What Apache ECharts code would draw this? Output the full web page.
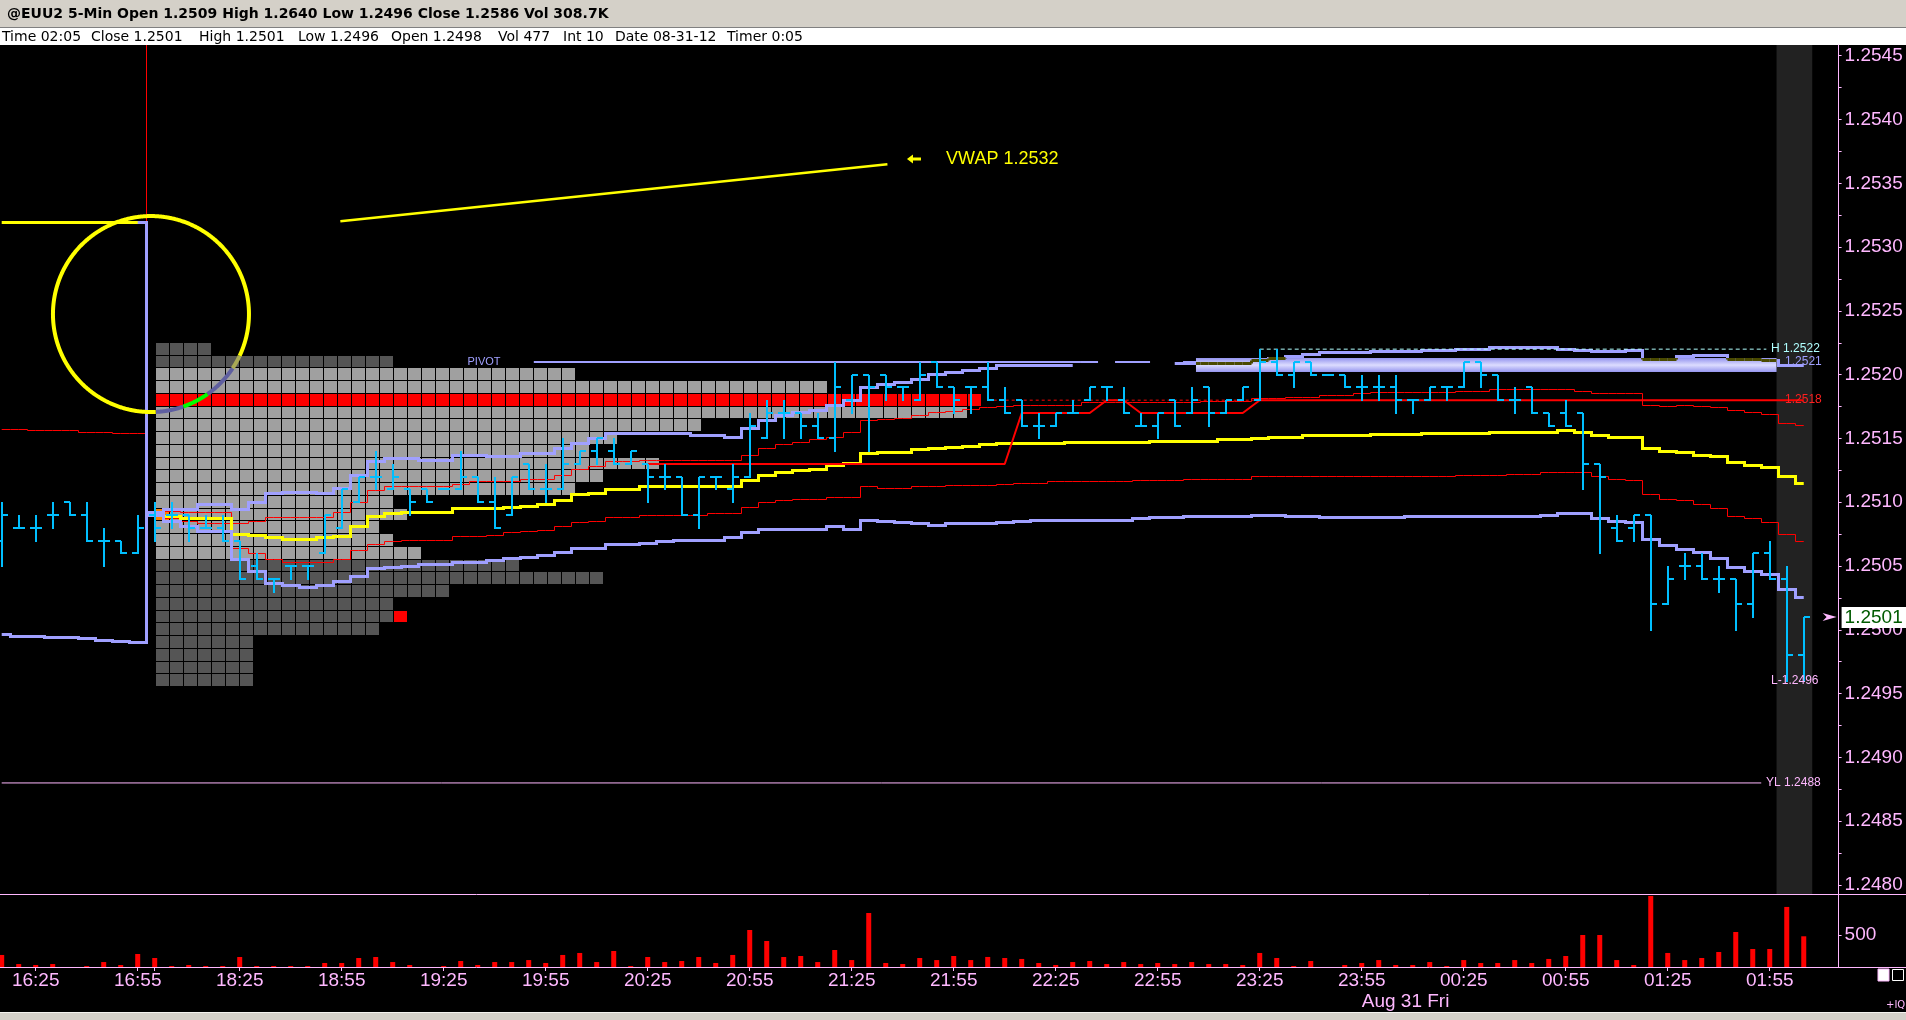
<!DOCTYPE html>
<html>
<head>
<meta charset="utf-8">
<title>@EUU2 5-Min</title>
<script src="https://cdn.jsdelivr.net/npm/echarts@6/dist/echarts.min.js"></script>
<style>
  html, body { margin: 0; padding: 0; background: #000; overflow: hidden; }
  #chart { width: 1906px; height: 1020px; }
</style>
</head>
<body>
<div id="chart"></div>
<script>
// EUU2 5-min session: OHLC bars, VWAP with 1/2 sd bands, TPO profile,
// developing POC and a volume pane underneath.

const TITLE = '@EUU2 5-Min Open 1.2509 High 1.2640 Low 1.2496 Close 1.2586 Vol 308.7K';
const statusFields = ['Time 02:05', 'Close 1.2501', 'High 1.2501', 'Low 1.2496', 'Open 1.2498',
  'Vol 477', 'Int 10', 'Date 08-31-12', 'Timer 0:05'];

// time axis: one slot per 5-min bar, labels every 6th bar
const timeLabels = ['16:25', '16:55', '18:25', '18:55', '19:25', '19:55', '20:25', '20:55', '21:25',
  '21:55', '22:25', '22:55', '23:25', '23:55', '00:25', '00:55', '01:25', '01:55'];
const timeLabelIdx = [2, 8, 14, 20, 26, 32, 38, 44, 50, 56, 62, 68, 74, 80, 86, 92, 98, 104];
const timeTickIdx = [2, 8, 9, 14, 20, 26, 32, 38, 44, 50, 56, 62, 68, 74, 80, 86, 92, 98, 104];
const dateLabel = 'Aug 31 Fri';
const dateLabelIdx = 80;

const priceLabels = [1.2480, 1.2485, 1.2490, 1.2495, 1.2500, 1.2505, 1.2510,
  1.2515, 1.2520, 1.2525, 1.2530, 1.2535, 1.2540, 1.2545];
const volLabels = [500];

const open = [1.2507,1.2508,1.2508,1.2509,1.2510,1.2509,1.2507,1.2507,1.2506,
  1.2509,1.2509,1.2509,1.2508,1.2508,1.2507,1.2505,1.2504,1.2505,1.2505,1.2506,
  1.2508,1.2510,1.2512,1.2511,1.2511,1.2511,1.2511,1.2511,1.2512,1.2510,
  1.2509,1.2513,1.2511,1.2511,1.2513,1.2514,1.2514,1.2513,1.2513,1.2512,
  1.2512,1.2509,1.2512,1.2511,1.2512,1.2515,1.2517,1.2517,1.2516,1.2515,
  1.2518,1.2520,1.2520,1.2519,1.2518,1.2521,1.2519,1.2519,1.2519,1.2518,
  1.2518,1.2516,1.2516,1.2517,1.2518,1.2519,1.2518,1.2516,1.2516,1.2518,
  1.2517,1.2519,1.2517,1.2518,1.2518,1.2521,1.2520,1.2521,1.2520,1.2520,
  1.2519,1.2519,1.2519,1.2518,1.2518,1.2519,1.2519,1.2521,1.2520,1.2518,
  1.2519,1.2517,1.2517,1.2517,1.2513,1.2508,1.2508,1.2509,1.2502,1.2505,
  1.2505,1.2504,1.2504,1.2502,1.2506,1.2504,1.2498];
const high = [1.2510,1.2509,1.2509,1.2510,1.2510,1.2510,1.2508,1.2507,1.2509,
  1.2510,1.2510,1.2509,1.2509,1.2509,1.2507,1.2506,1.2504,1.2505,1.2505,1.2509,
  1.2511,1.2512,1.2514,1.2513,1.2511,1.2511,1.2511,1.2514,1.2512,1.2512,
  1.2512,1.2513,1.2513,1.2515,1.2514,1.2515,1.2515,1.2514,1.2513,1.2513,
  1.2512,1.2512,1.2512,1.2513,1.2517,1.2518,1.2518,1.2517,1.2517,1.2521,
  1.2520,1.2520,1.2520,1.2519,1.2521,1.2521,1.2519,1.2519,1.2521,1.2519,
  1.2518,1.2517,1.2517,1.2518,1.2519,1.2519,1.2519,1.2517,1.2517,1.2518,
  1.2519,1.2519,1.2518,1.2519,1.2522,1.2522,1.2521,1.2521,1.2520,1.2520,
  1.2520,1.2520,1.2520,1.2518,1.2519,1.2519,1.2521,1.2521,1.2520,1.2519,
  1.2519,1.2517,1.2518,1.2517,1.2513,1.2509,1.2509,1.2509,1.2505,1.2506,
  1.2506,1.2505,1.2504,1.2506,1.2507,1.2505,1.2501];
const low = [1.2505,1.2508,1.2507,1.2508,1.2509,1.2507,1.2505,1.2506,1.2506,
  1.2507,1.2508,1.2507,1.2508,1.2507,1.2504,1.2504,1.2503,1.2504,1.2504,1.2506,
  1.2508,1.2510,1.2511,1.2511,1.2509,1.2510,1.2511,1.2511,1.2510,1.2508,
  1.2509,1.2511,1.2510,1.2511,1.2513,1.2513,1.2513,1.2513,1.2510,1.2511,
  1.2509,1.2508,1.2511,1.2510,1.2512,1.2515,1.2515,1.2515,1.2515,1.2514,
  1.2517,1.2514,1.2518,1.2518,1.2518,1.2519,1.2517,1.2517,1.2518,1.2517,
  1.2516,1.2515,1.2516,1.2517,1.2518,1.2518,1.2517,1.2516,1.2515,1.2516,
  1.2517,1.2516,1.2517,1.2518,1.2518,1.2520,1.2519,1.2520,1.2520,1.2519,
  1.2518,1.2518,1.2517,1.2517,1.2518,1.2518,1.2519,1.2519,1.2518,1.2517,
  1.2517,1.2516,1.2516,1.2511,1.2506,1.2507,1.2507,1.2500,1.2502,1.2504,
  1.2504,1.2503,1.2500,1.2501,1.2504,1.2496,1.2496];
const close = [1.2509,1.2508,1.2508,1.2509,1.2509,1.2507,1.2507,1.2506,1.2508,
  1.2508,1.2509,1.2508,1.2508,1.2507,1.2504,1.2504,1.2504,1.2505,1.2505,1.2509,
  1.2511,1.2512,1.2512,1.2512,1.2510,1.2510,1.2511,1.2512,1.2510,1.2508,
  1.2512,1.2511,1.2511,1.2513,1.2514,1.2515,1.2513,1.2514,1.2512,1.2512,
  1.2509,1.2512,1.2512,1.2512,1.2516,1.2517,1.2517,1.2516,1.2515,1.2519,
  1.2520,1.2519,1.2519,1.2519,1.2520,1.2519,1.2518,1.2519,1.2518,1.2517,
  1.2516,1.2516,1.2517,1.2517,1.2519,1.2519,1.2517,1.2516,1.2517,1.2516,
  1.2518,1.2517,1.2518,1.2519,1.2521,1.2520,1.2521,1.2520,1.2520,1.2519,
  1.2519,1.2519,1.2518,1.2518,1.2519,1.2519,1.2521,1.2520,1.2518,1.2518,
  1.2517,1.2516,1.2516,1.2513,1.2512,1.2507,1.2509,1.2502,1.2504,1.2505,
  1.2504,1.2504,1.2502,1.2506,1.2504,1.2498,1.2501];
const volume = [187,46,31,46,0,15,77,31,202,
  140,15,31,15,15,155,15,15,15,15,62,
  62,140,155,77,31,0,15,93,31,77,
  77,108,62,187,218,77,249,15,155,77,
  93,155,62,187,575,404,155,171,77,264,
  108,839,62,46,140,108,171,108,156,140,
  125,62,31,77,93,46,77,46,62,46,
  77,46,46,31,218,140,15,93,0,31,
  62,108,31,31,77,15,108,62,62,108,
  62,125,171,497,497,108,31,1104,218,108,
  140,233,544,280,280,933,477];

const vwap = [1.25319,1.25319,1.25319,1.25319,1.25319,1.25319,1.25319,1.25319,1.25319,
  1.25092,1.25089,1.25087,1.25087,1.25087,1.25075,1.25074,1.25072,1.25071,1.25071,1.25072,
  1.25073,1.25081,1.25089,1.25091,1.25092,1.25092,1.25092,1.25095,1.25095,1.25095,
  1.25096,1.25097,1.25098,1.25101,1.25106,1.25107,1.2511,1.2511,1.25112,1.25112,
  1.25112,1.25112,1.25112,1.25112,1.25117,1.25121,1.25123,1.25125,1.25126,1.25129,
  1.2513,1.25138,1.25139,1.25139,1.25141,1.25142,1.25143,1.25144,1.25145,1.25146,
  1.25146,1.25146,1.25146,1.25147,1.25147,1.25147,1.25147,1.25147,1.25148,1.25148,
  1.25148,1.25148,1.25149,1.25149,1.2515,1.25151,1.25151,1.25152,1.25152,1.25152,
  1.25152,1.25153,1.25153,1.25153,1.25154,1.25154,1.25154,1.25154,1.25155,1.25155,
  1.25155,1.25155,1.25156,1.25155,1.25152,1.25151,1.25151,1.25142,1.2514,1.25139,
  1.25137,1.25136,1.25131,1.25129,1.25127,1.2512,1.25115];
const up1 = [1.256,1.256,1.256,1.256,1.256,1.256,1.256,1.256,1.256,
  1.25092,1.25093,1.25092,1.25092,1.25092,1.25083,1.25085,1.25088,1.25088,1.25088,1.25088,
  1.25092,1.251,1.25109,1.25112,1.25112,1.25112,1.25112,1.25114,1.25116,1.25116,
  1.25116,1.25118,1.25118,1.25121,1.25126,1.25128,1.25132,1.25132,1.25133,1.25133,
  1.25133,1.25133,1.25133,1.25133,1.25137,1.25142,1.25145,1.25147,1.25149,1.25151,
  1.25155,1.25164,1.25165,1.25166,1.25168,1.2517,1.25171,1.25173,1.25174,1.25175,
  1.25176,1.25176,1.25176,1.25176,1.25178,1.25178,1.25178,1.25178,1.25178,1.25178,
  1.25178,1.25179,1.25179,1.25179,1.25181,1.25181,1.25182,1.25182,1.25184,1.25184,
  1.25185,1.25186,1.25186,1.25186,1.25186,1.25186,1.25187,1.25187,1.25188,1.25188,
  1.25188,1.25188,1.25188,1.25187,1.25185,1.25185,1.25185,1.25176,1.25175,1.25176,
  1.25175,1.25174,1.25172,1.2517,1.25169,1.25162,1.2516];
const dn1 = [1.25157,1.25157,1.25156,1.25156,1.25156,1.25155,1.25155,1.25154,1.25154,
  1.25092,1.25087,1.25085,1.25083,1.25083,1.25064,1.2506,1.25055,1.25053,1.25053,1.25053,
  1.25055,1.25062,1.25067,1.25069,1.2507,1.2507,1.2507,1.25073,1.25073,1.25074,
  1.25076,1.25077,1.25078,1.25081,1.25084,1.25085,1.25088,1.25088,1.2509,1.2509,
  1.2509,1.2509,1.25091,1.25091,1.25096,1.251,1.25101,1.25102,1.25102,1.25104,
  1.25104,1.25112,1.25111,1.25111,1.25112,1.25112,1.25113,1.25113,1.25113,1.25114,
  1.25115,1.25115,1.25116,1.25116,1.25116,1.25116,1.25116,1.25117,1.25117,1.25117,
  1.25118,1.25118,1.25118,1.25118,1.2512,1.2512,1.2512,1.2512,1.2512,1.2512,
  1.2512,1.2512,1.2512,1.2512,1.2512,1.2512,1.25121,1.25121,1.25121,1.25122,
  1.25122,1.25123,1.25123,1.25123,1.2512,1.25118,1.25117,1.25106,1.25102,1.25101,
  1.25098,1.25095,1.25089,1.25087,1.25084,1.25075,1.25069];
// +2sd: not visible where it runs on top of the pivot line (bars 64-68)
const up2 = [null,null,null,null,null,null,null,null,1.25319,
  1.25092,1.25094,1.25094,1.25098,1.25098,1.25094,1.251,1.25107,1.25108,1.25108,1.25107,
  1.25111,1.25121,1.25132,1.25134,1.25134,1.25133,1.25133,1.25137,1.25137,1.25136,
  1.25136,1.25138,1.25138,1.25142,1.25146,1.2515,1.25154,1.25154,1.25154,1.25154,
  1.25154,1.25152,1.25152,1.25151,1.25158,1.25164,1.25168,1.2517,1.25172,1.25176,
  1.2518,1.2519,1.25192,1.25194,1.25196,1.252,1.25202,1.25203,1.25205,1.25207,
  1.25207,1.25207,1.25207,1.25207,null,null,null,null,null,1.25209,
  1.25209,1.25209,1.25209,1.25209,1.25211,1.25213,1.25214,1.25216,1.25217,1.25217,
  1.25217,1.25218,1.25218,1.25218,1.25219,1.25219,1.2522,1.2522,1.25221,1.25221,
  1.25221,1.25221,1.2522,1.25219,1.25218,1.25218,1.25219,1.25212,1.25212,1.25214,
  1.25215,1.25215,1.25212,1.25212,1.25211,1.25207,1.25207];
const dn2 = [1.24996,1.24995,1.24995,1.24994,1.24994,1.24993,1.24992,1.24991,1.2499,
  1.2509,1.25085,1.25081,1.25077,1.25077,1.25055,1.25046,1.25036,1.25035,1.25033,1.25035,
  1.25038,1.25042,1.25048,1.25049,1.2505,1.25051,1.25051,1.25053,1.25053,1.25054,
  1.25056,1.25057,1.25058,1.25061,1.25064,1.25064,1.25067,1.25067,1.25068,1.25069,
  1.2507,1.2507,1.2507,1.25072,1.25076,1.25079,1.25079,1.25079,1.25079,1.25081,
  1.25079,1.25086,1.25085,1.25084,1.25083,1.25082,1.25083,1.25083,1.25083,1.25084,
  1.25085,1.25086,1.25086,1.25086,1.25086,1.25086,1.25086,1.25087,1.25088,1.25088,
  1.25089,1.25089,1.25089,1.25089,1.2509,1.2509,1.25089,1.25089,1.25088,1.25088,
  1.25088,1.25088,1.25088,1.25089,1.25089,1.25089,1.25089,1.25089,1.25089,1.25089,
  1.25089,1.2509,1.25091,1.25091,1.25087,1.25085,1.25084,1.25071,1.25066,1.25063,
  1.25061,1.25056,1.25049,1.25046,1.25043,1.25032,1.25025];
// developing point of control
const poc = [null,null,null,null,null,null,null,null,null,null,
  null,null,null,null,null,null,null,null,null,null,
  null,null,null,null,null,null,null,null,null,null,
  null,null,null,null,null,null,null,null,1.2513,1.2513,
  1.2513,1.2513,1.2513,1.2513,1.2513,1.2513,1.2513,1.2513,1.2513,1.2513,
  1.2513,1.2513,1.2513,1.2513,1.2513,1.2513,1.2513,1.2513,1.2513,1.2513,
  1.2517,1.2517,1.2517,1.2517,1.2517,1.2518,1.2518,1.2517,1.2517,1.2517,
  1.2517,1.2517,1.2517,1.2517,1.2518,1.2518,1.2518,1.2518,1.2518,1.2518,
  1.2518,1.2518,1.2518,1.2518,1.2518,1.2518,1.2518,1.2518,1.2518,1.2518,
  1.2518,1.2518,1.2518,1.2518,1.2518,1.2518,1.2518,1.2518,1.2518,1.2518,
  1.2518,1.2518,1.2518,1.2518,1.2518,1.2518,1.2518];

// TPO profile: one row per tick, count of letters per row
const profilePrices = [1.2522, 1.2521, 1.2520, 1.2519, 1.2518, 1.2517, 1.2516, 1.2515, 1.2514,
  1.2513, 1.2512, 1.2511, 1.2510, 1.2509, 1.2508, 1.2507, 1.2506, 1.2505, 1.2504, 1.2503,
  1.2502, 1.2501, 1.2500, 1.2499, 1.2498, 1.2497, 1.2496];
const profileCounts = [4, 17, 30, 48, 59, 58, 39, 33, 31, 36, 32, 30, 17, 18, 16, 17, 19,
  26, 32, 21, 17, 17, 16, 7, 7, 7, 7];
const valueArea = [1.2506, 1.2520];
const profilePoc = 1.2518;
const profileOpen = [0, 1.2509];
const profileClose = [17, 1.2501];

// reference levels
const pocExtSpan = [58, 74];
const pivotSolidSpan = [31.3, 63.43];
const pivotDashSpan = [63.43, 70.25];
const pivotPrice = 1.2521;
const bandSpan = [70.25, 104.4];
const bandPrices = [1.25202, 1.25213];
const sessionHigh = 1.2522;
const sessionHighSpan = [74, 103.8];
const yesterdayLow = 1.2488;
const yesterdayLowSpan = [0, 103.5];
const currentSpan = [104.4, 106.5];
const lastPrice = 1.2501;
const lastIdx = 106;
const tagTexts = ['H 1.2522', '1.2521', '1.2518', 'L-1.2496', 'YL 1.2488', 'PIVOT'];
const tagAt = [[104.08, 1.2522], [104.9, 1.2521], [104.9, 1.2518], [104.08, 1.2496], [103.78, 1.2488], [27.4, 1.2521]];

// hand-drawn note
const noteCircle = [8.78, 1.252475];
const noteLine = [[19.92, 1.253203], [52.1, 1.25365]];
const noteArrow = [53.25, 1.25369];
const noteTextAt = [55.55, 1.25369];
const noteText = 'VWAP 1.2532';

const PRICE_MIN = 1.2479295, PRICE_MAX = 1.2545839;
const X_MAX = 108.05;
const PROFILE_MIN = -11.02, PROFILE_MAX = 120.19;
const VOL_MAX = 1134;
const TICK = 0.0001;

const PINK = '#ffb8ff';
const CYAN = '#00bfff';
const LAV = '#a0a0ff';
const RED = '#ff0000';
const YELLOW = '#ffff00';
const tagColors = ['#b0ffff', LAV, '#ff2020', PINK, PINK, LAV];
const tagFonts = [12, 12, 12, 12, 12, 11];
const cellColors = ['#a0a0a0', '#555555', '#ff0000', '#ff8000', '#ff0000'];
// what the xor-drawn yellow circle turns into over each kind of cell
const circleOverCell = ['#5f5fa0', '#aaaa55', '#00ff00', '#007f00', '#00ff00'];
const AXIS_FONT = '"Liberation Sans", Arial, sans-serif';

const chart = echarts.init(document.getElementById('chart'), null, { renderer: 'canvas' });

function pts(values) {
  return values.map((v, i) => [i, v == null ? '-' : v]);
}

// profile x (cell units) expressed on the main bar axis, same grid
function profileToIdx(u) {
  return (u - PROFILE_MIN) * X_MAX / (PROFILE_MAX - PROFILE_MIN);
}

const profileKinds = profilePrices.map(p => {
  const key = Math.round(p * 10000);
  if (key === Math.round(profilePoc * 10000)) return 2;
  return (key >= Math.round(valueArea[0] * 10000) && key <= Math.round(valueArea[1] * 10000)) ? 0 : 1;
});

// step polyline runs (level changes half way between bars), snapped to pixels
function stepRuns(api, values, half) {
  const runs = [];
  let cur = null;
  values.forEach((v, i) => {
    if (v == null) { cur = null; return; }
    const p = api.coord([i, v]);
    const y = Math.floor(p[1]) + half;
    if (!cur) {
      cur = [[p[0], y]];
      runs.push(cur);
    } else {
      const prev = cur[cur.length - 1];
      const mid = Math.floor((prev[0] + p[0]) / 2) + half;
      cur.push([mid, prev[1]], [mid, y], [p[0], y]);
    }
  });
  return runs;
}

function stepSeries(name, values, color, width, z) {
  const half = width % 2 ? 0.5 : 0;
  return {
    name, type: 'custom', xAxisIndex: 0, yAxisIndex: 0, z, silent: true, clip: true,
    data: [[0, 1.25]],
    renderItem: (params, api) => ({
      type: 'group',
      children: stepRuns(api, values, half).map(r => ({
        type: 'polyline', shape: { points: r }, style: { stroke: color, lineWidth: width, fill: 'none' },
      })),
    }),
  };
}

function hLine(name, span, price, color, width, type) {
  return {
    name, type: 'line', xAxisIndex: 0, yAxisIndex: 0,
    data: [[span[0], price], [span[1], price]],
    showSymbol: false, symbol: 'none', z: 2, silent: true,
    lineStyle: { color, width, type },
  };
}

// clip an axis-aligned segment to a rect
function clipSeg(p, q, r) {
  if (p[1] === q[1]) {
    if (p[1] < r.y1 || p[1] > r.y2) return null;
    const a = Math.max(Math.min(p[0], q[0]), r.x1), b = Math.min(Math.max(p[0], q[0]), r.x2);
    return a < b ? [a, p[1], b, p[1]] : null;
  }
  if (p[0] < r.x1 || p[0] > r.x2) return null;
  const a = Math.max(Math.min(p[1], q[1]), r.y1), b = Math.min(Math.max(p[1], q[1]), r.y2);
  return a < b ? [p[0], a, p[0], b] : null;
}

const profileCells = [];
profilePrices.forEach((p, r) => {
  for (let k = 0; k < profileCounts[r]; k++) profileCells.push([k, p, profileKinds[r]]);
});
profileCells.push([profileOpen[0], profileOpen[1], 3]);
profileCells.push([profileClose[0], profileClose[1], 4]);

const graphic = [
  { type: 'rect', shape: { x: 0, y: 0, width: 1906, height: 27 }, style: { fill: '#d4d0c8' } },
  { type: 'rect', shape: { x: 0, y: 27, width: 1906, height: 1 }, style: { fill: '#808080' } },
  { type: 'rect', shape: { x: 0, y: 28, width: 1906, height: 17 }, style: { fill: '#ffffff' } },
  { type: 'text', x: 7, y: 14.5, style: { text: TITLE, fill: '#000', font: 'bold 14px "DejaVu Sans", sans-serif', verticalAlign: 'middle' } },
  { type: 'line', shape: { x1: 0, y1: 894.5, x2: 1906, y2: 894.5 }, style: { stroke: PINK, lineWidth: 1 } },
  { type: 'line', shape: { x1: 0, y1: 967.5, x2: 1906, y2: 967.5 }, style: { stroke: PINK, lineWidth: 1 } },
  { type: 'rect', shape: { x: 0, y: 1012, width: 1906, height: 8 }, style: { fill: '#d4d0c8' } },
  { type: 'rect', shape: { x: 0, y: 1012, width: 1906, height: 1 }, style: { fill: '#f4f2ee' } },
  { type: 'rect', shape: { x: 1878, y: 969, width: 11, height: 12 }, style: { fill: '#ffffff', stroke: PINK, lineWidth: 1 } },
  { type: 'rect', shape: { x: 1892.5, y: 969.5, width: 11, height: 11 }, style: { fill: 'none', stroke: '#ffffff', lineWidth: 1 } },
  { type: 'text', x: 1886, y: 1005, style: { text: '+IQ', fill: PINK, font: '10px "DejaVu Sans", sans-serif', verticalAlign: 'middle' } },
];
const statusX = [2, 91, 199, 298, 391, 498, 563, 615, 727];
statusFields.forEach((t, i) => {
  graphic.push({ type: 'text', x: statusX[i], y: 37, style: { text: t, fill: '#000', font: '14px "DejaVu Sans", sans-serif', verticalAlign: 'middle' } });
});

const priceTickMarks = priceLabels.flatMap(v => [v, v + 0.00025]).filter(v => v < PRICE_MAX);

const option = {
  backgroundColor: '#000',
  animation: false,
  graphic,
  grid: [
    { left: 1.7, right: 67.4, top: 45, height: 849 },
    { left: 1.7, right: 67.4, top: 894, height: 73 },
  ],
  xAxis: [
    { type: 'value', gridIndex: 0, min: 0, max: X_MAX, show: false },
    {
      type: 'value', gridIndex: 1, min: 0, max: X_MAX,
      axisLine: { show: false, onZero: false }, splitLine: { show: false },
      axisTick: { show: true, customValues: timeTickIdx, length: 4, lineStyle: { color: PINK } },
      axisLabel: {
        show: true, customValues: timeLabelIdx,
        formatter: v => timeLabels[timeLabelIdx.indexOf(Math.round(v))] || '',
        color: PINK, fontSize: 19, fontFamily: AXIS_FONT, margin: 4,
      },
    },
    { type: 'value', gridIndex: 0, min: PROFILE_MIN, max: PROFILE_MAX, show: false },
  ],
  yAxis: [
    {
      type: 'value', gridIndex: 0, position: 'right', min: PRICE_MIN, max: PRICE_MAX,
      axisLine: { show: true, onZero: false, lineStyle: { color: PINK } },
      axisTick: { show: true, customValues: priceTickMarks, length: 3, lineStyle: { color: PINK } },
      axisLabel: { customValues: priceLabels, formatter: v => v.toFixed(4), color: PINK, fontSize: 19, fontFamily: AXIS_FONT, margin: 6 },
      splitLine: { show: false },
    },
    {
      type: 'value', gridIndex: 1, position: 'right', min: 0, max: VOL_MAX,
      axisLine: { show: true, onZero: false, lineStyle: { color: PINK } },
      axisTick: { show: true, customValues: volLabels, length: 3, lineStyle: { color: PINK } },
      axisLabel: { customValues: volLabels, color: PINK, fontSize: 19, fontFamily: AXIS_FONT, margin: 6 },
      splitLine: { show: false },
    },
  ],
  series: [
    // shaded current-bars column
    {
      type: 'custom', xAxisIndex: 0, yAxisIndex: 0, z: 0, silent: true,
      data: [[currentSpan[0], PRICE_MAX]],
      renderItem: (params, api) => {
        const a = api.coord([currentSpan[0], PRICE_MAX]);
        const b = api.coord([currentSpan[1], PRICE_MIN]);
        return { type: 'rect', shape: { x: a[0], y: a[1], width: b[0] - a[0], height: b[1] - a[1] }, style: { fill: '#222222' } };
      },
    },
    // TPO profile cells
    {
      type: 'custom', xAxisIndex: 2, yAxisIndex: 0, z: 1, silent: true,
      data: profileCells,
      renderItem: (params, api) => {
        const a = api.coord([api.value(0), api.value(1) + TICK / 2]);
        const b = api.coord([api.value(0) + 1, api.value(1) - TICK / 2]);
        const x0 = Math.round(a[0]), y0 = Math.round(a[1]);
        return {
          type: 'rect',
          shape: { x: x0, y: y0, width: Math.round(b[0]) - x0 - 1, height: Math.round(b[1]) - y0 - 1 },
          style: { fill: cellColors[api.value(2)] },
        };
      },
    },
    stepSeries('-1sd', dn1, RED, 1, 2),
    stepSeries('+1sd', up1, RED, 1, 2),
    stepSeries('VWAP', vwap, YELLOW, 3, 2),
    stepSeries('-2sd', dn2, LAV, 3, 2),
    stepSeries('+2sd', up2, LAV, 3, 2),
    {
      name: 'POC', type: 'line', xAxisIndex: 0, yAxisIndex: 0, data: pts(poc),
      showSymbol: false, symbol: 'none', z: 2, silent: true, lineStyle: { color: RED, width: 2 },
    },
    hLine('POC ext', pocExtSpan, profilePoc, RED, 1, [3, 3]),
    hLine('H', sessionHighSpan, sessionHigh, '#b0ffff', 1, [4, 3]),
    hLine('YL', yesterdayLowSpan, yesterdayLow, PINK, 1, 'solid'),
    hLine('Pivot', pivotSolidSpan, pivotPrice, LAV, 2, 'solid'),
    hLine('Pivot tail', pivotDashSpan, pivotPrice, LAV, 2, [18, 17, 35, 33]),
    // pivot zone; the +2sd line shows dark where it runs inside it
    {
      type: 'custom', xAxisIndex: 0, yAxisIndex: 0, z: 3, silent: true,
      data: [[bandSpan[0], bandPrices[0]]],
      renderItem: (params, api) => {
        const a = api.coord([bandSpan[0], bandPrices[1]]);
        const b = api.coord([bandSpan[1], bandPrices[0]]);
        const r = { x1: a[0], y1: a[1], x2: b[0], y2: b[1] };
        const kids = [{
          type: 'rect', shape: { x: a[0], y: a[1], width: b[0] - a[0], height: b[1] - a[1] },
          style: {
            fill: new echarts.graphic.LinearGradient(0, 0, 0, 1, [
              { offset: 0, color: '#9494ee' }, { offset: 0.5, color: '#dcdcff' }, { offset: 1, color: '#9494ee' },
            ]),
          },
        }];
        stepRuns(api, up2, 0.5).forEach(run => {
          for (let j = 1; j < run.length; j++) {
            const s = clipSeg(run[j - 1], run[j], r);
            if (s) kids.push({ type: 'line', shape: { x1: s[0], y1: s[1], x2: s[2], y2: s[3] }, style: { stroke: '#4a4a00', lineWidth: 3 } });
          }
        });
        return { type: 'group', children: kids };
      },
    },
    // OHLC bars
    {
      type: 'custom', xAxisIndex: 0, yAxisIndex: 0, z: 5, silent: true,
      data: open.map((o, i) => [i, o, high[i], low[i], close[i]]),
      renderItem: (params, api) => {
        const h = api.coord([api.value(0), api.value(2)]);
        const l = api.coord([api.value(0), api.value(3)]);
        const o = api.coord([api.value(0), api.value(1)]);
        const c = api.coord([api.value(0), api.value(4)]);
        const x = Math.round(h[0]);
        const st = { stroke: CYAN, lineWidth: 2 };
        return {
          type: 'group', children: [
            { type: 'line', shape: { x1: x, y1: Math.round(h[1]), x2: x, y2: Math.round(l[1]) + 1 }, style: st },
            { type: 'line', shape: { x1: x - 6, y1: Math.round(o[1]), x2: x, y2: Math.round(o[1]) }, style: st },
            { type: 'line', shape: { x1: x, y1: Math.round(c[1]), x2: x + 6, y2: Math.round(c[1]) }, style: st },
          ],
        };
      },
    },
    // the yellow note; the circle is xor-drawn, so it changes colour over the profile
    {
      type: 'custom', xAxisIndex: 0, yAxisIndex: 0, z: 6, silent: true, clip: false,
      data: [noteCircle],
      renderItem: (params, api) => {
        const c = api.coord(noteCircle);
        const a = api.coord(noteLine[0]);
        const b = api.coord(noteLine[1]);
        const t = api.coord(noteArrow);
        const tx = api.coord(noteTextAt);
        const rows = profilePrices.map(p => [api.coord([0, p + TICK / 2])[1], api.coord([0, p - TICK / 2])[1]]);
        const cx0 = api.coord([profileToIdx(0), 0])[0];
        const cw = api.coord([profileToIdx(1), 0])[0] - cx0;
        const colourAt = (x, y) => {
          for (let r = 0; r < rows.length; r++) {
            if (y >= rows[r][0] && y < rows[r][1]) {
              const k = Math.floor((x - cx0) / cw);
              return (k >= 0 && k < profileCounts[r]) ? circleOverCell[profileKinds[r]] : YELLOW;
            }
          }
          return YELLOW;
        };
        const R = 98, N = 900;
        const arcs = [];
        let run = null, runColour = null;
        for (let s = 0; s <= N; s++) {
          const ang = (s / N) * Math.PI * 2;
          const p = [c[0] + R * Math.cos(ang), c[1] + R * Math.sin(ang)];
          const col = colourAt(p[0], p[1]);
          if (col !== runColour) {
            if (run) run.points.push(p);
            run = { colour: col, points: [p] };
            runColour = col;
            arcs.push(run);
          } else {
            run.points.push(p);
          }
        }
        const kids = arcs.filter(r => r.points.length > 1).map(r => ({
          type: 'polyline', shape: { points: r.points }, style: { stroke: r.colour, lineWidth: 4, fill: 'none' },
        }));
        kids.push(
          { type: 'line', shape: { x1: a[0], y1: a[1], x2: b[0], y2: b[1] }, style: { stroke: YELLOW, lineWidth: 2.5 } },
          {
            type: 'polygon',
            shape: { points: [[t[0], t[1]], [t[0] + 6, t[1] - 4.5], [t[0] + 6, t[1] - 1.5], [t[0] + 14, t[1] - 1.5], [t[0] + 14, t[1] + 1.5], [t[0] + 6, t[1] + 1.5], [t[0] + 6, t[1] + 4.5]] },
            style: { fill: YELLOW },
          },
          { type: 'text', x: tx[0], y: tx[1], style: { text: noteText, fill: YELLOW, font: '18px ' + AXIS_FONT, verticalAlign: 'middle' } },
        );
        return { type: 'group', children: kids };
      },
    },
    // level tags
    {
      type: 'custom', xAxisIndex: 0, yAxisIndex: 0, z: 7, silent: true, clip: false,
      data: tagAt.map((p, k) => [p[0], p[1], k]),
      renderItem: (params, api) => {
        const p = api.coord([api.value(0), api.value(1)]);
        const k = api.value(2);
        return { type: 'text', x: p[0], y: p[1], style: { text: tagTexts[k], fill: tagColors[k], font: tagFonts[k] + 'px ' + AXIS_FONT, verticalAlign: 'middle' } };
      },
    },
    // last price marker on the axis
    {
      type: 'custom', xAxisIndex: 0, yAxisIndex: 0, z: 8, silent: true, clip: false,
      data: [[lastIdx, lastPrice]],
      renderItem: (params, api) => {
        const p = api.coord([api.value(0), api.value(1)]);
        const ax = api.coord([X_MAX, api.value(1)])[0];
        const y = Math.round(p[1]);
        return {
          type: 'group', children: [
            { type: 'rect', shape: { x: ax + 3, y: y - 10, width: 70, height: 21 }, style: { fill: '#ffffff' } },
            { type: 'text', x: ax + 6, y: y + 1, style: { text: lastPrice.toFixed(4), fill: '#005a00', font: '19px ' + AXIS_FONT, verticalAlign: 'middle' } },
            { type: 'polygon', shape: { points: [[ax - 16, y - 4], [ax - 2, y], [ax - 16, y + 4], [ax - 12, y]] }, style: { fill: PINK } },
          ],
        };
      },
    },
    // volume pane
    {
      name: 'Volume', type: 'bar', xAxisIndex: 1, yAxisIndex: 1,
      data: volume.map((v, i) => [i, v]), barWidth: 5, silent: true,
      itemStyle: { color: RED },
    },
    {
      type: 'custom', xAxisIndex: 1, yAxisIndex: 1, z: 7, silent: true, clip: false,
      data: [[dateLabelIdx, 0]],
      renderItem: (params, api) => {
        const p = api.coord([api.value(0), 0]);
        return { type: 'text', x: p[0], y: p[1] + 35, style: { text: dateLabel, fill: PINK, font: '19px ' + AXIS_FONT, verticalAlign: 'middle' } };
      },
    },
  ],
};

chart.setOption(option);
</script>
</body>
</html>
